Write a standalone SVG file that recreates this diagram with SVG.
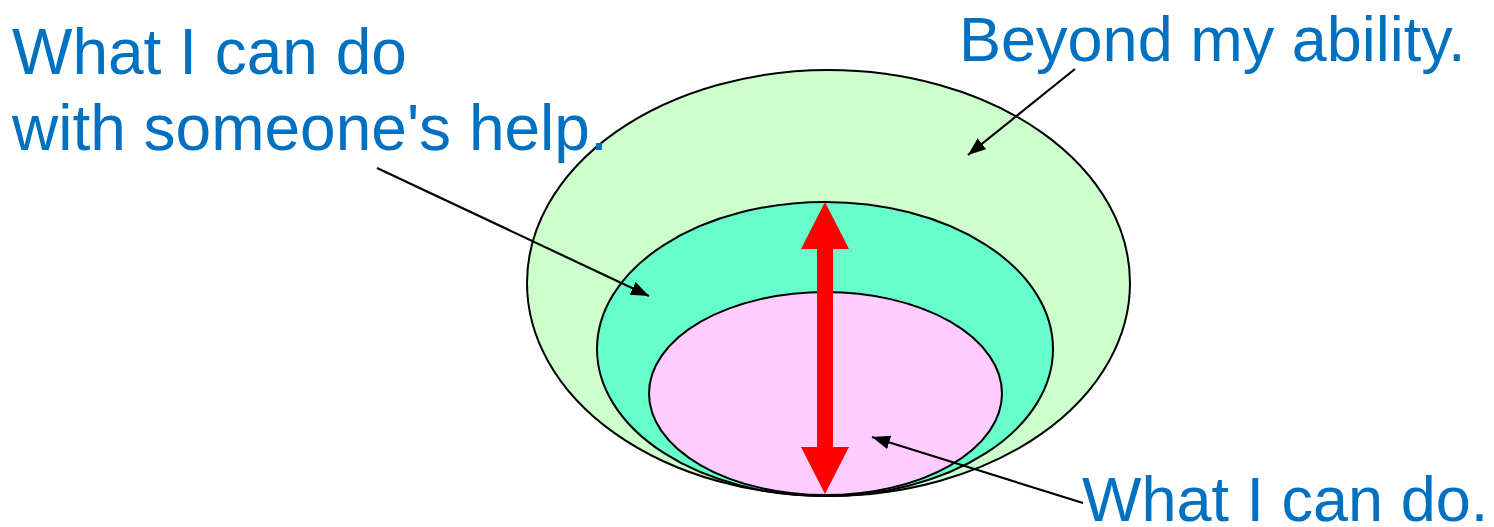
<svg xmlns="http://www.w3.org/2000/svg" width="1494" height="527" viewBox="0 0 1494 527">
<style>
.lbl{font-family:"Liberation Sans",Arial,sans-serif;font-size:63px;fill:#0070C0}
.big{font-size:64px}
.ell{stroke:#000;stroke-width:2}
.pt{stroke:#000;stroke-width:2.2;fill:none}
</style>
<defs>
<marker id="ah" viewBox="0 0 18 14" refX="18" refY="7" markerWidth="18" markerHeight="14" markerUnits="userSpaceOnUse" orient="auto">
<path d="M0,0 L18,7 L0,14 Z" fill="#000"/>
</marker>
</defs>
<rect width="1494" height="527" fill="#fff"/>
<g id="outer"><ellipse class="ell" cx="828.5" cy="283" rx="301.5" ry="213" fill="#CCFFCC"/></g>
<g id="middle"><ellipse class="ell" cx="825" cy="349" rx="228" ry="147" fill="#66FFCC"/></g>
<g id="inner"><ellipse class="ell" cx="825.5" cy="393.5" rx="176.5" ry="101.5" fill="#FFCCFF"/></g>
<g id="range-arrow"><polygon points="825,202 849,249 833,249 833,447 849,447 825,494 801,447 817,447 817,249 801,249" fill="#FF0000"/></g>
<g id="label-help"><text class="lbl big" x="12" y="74">What I can do</text><text class="lbl big" x="12" y="150">with someone's help.</text></g>
<g id="label-beyond"><text class="lbl" x="959" y="61">Beyond my ability.</text></g>
<g id="label-cando"><text class="lbl" x="1082" y="521">What I can do.</text></g>
<g id="connectors">
<line class="pt" x1="1075" y1="69" x2="968" y2="155" marker-end="url(#ah)"/>
<line class="pt" x1="377" y1="168" x2="649" y2="296" marker-end="url(#ah)"/>
<line class="pt" x1="1083" y1="503" x2="872" y2="437" marker-end="url(#ah)"/>
</g>
</svg>
